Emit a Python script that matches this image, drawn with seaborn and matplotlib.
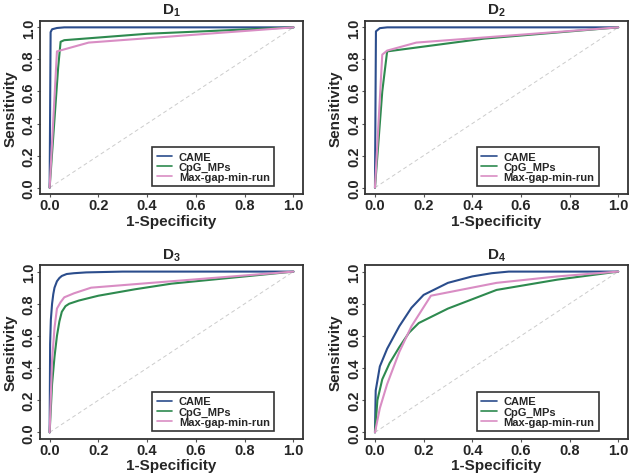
import pandas as pd
import matplotlib
matplotlib.use("Agg")
import matplotlib.pyplot as plt
import seaborn as sns

# ROC points: (1-specificity, sensitivity)
methods = ["CAME", "CpG_MPs", "Max-gap-min-run"]
colors = ["#2b4d8c", "#2e8a4f", "#d98dc4"]
panels = ["D$_1$", "D$_2$", "D$_3$", "D$_4$"]

d1_came_x = [0.0, 0.004, 0.01, 0.03, 0.06, 1.0]
d1_came_y = [0.0, 0.97, 0.988, 0.996, 1.0, 1.0]
d1_cpg_x = [0.0, 0.035, 0.045, 0.06, 0.4, 1.0]
d1_cpg_y = [0.0, 0.75, 0.91, 0.92, 0.96, 1.0]
d1_mgr_x = [0.0, 0.03, 0.16, 1.0]
d1_mgr_y = [0.0, 0.85, 0.905, 1.0]

d2_came_x = [0.0, 0.004, 0.02, 0.05, 1.0]
d2_came_y = [0.0, 0.975, 0.995, 1.0, 1.0]
d2_cpg_x = [0.0, 0.03, 0.05, 0.45, 1.0]
d2_cpg_y = [0.0, 0.6, 0.85, 0.93, 1.0]
d2_mgr_x = [0.0, 0.03, 0.05, 0.17, 1.0]
d2_mgr_y = [0.0, 0.83, 0.855, 0.905, 1.0]

d3_came_x = [0.0, 0.002, 0.005, 0.01, 0.015, 0.02, 0.03, 0.04, 0.05, 0.07, 0.1, 0.15, 0.3, 1.0]
d3_came_y = [0.0, 0.55, 0.7, 0.8, 0.86, 0.9, 0.94, 0.96, 0.973, 0.985, 0.99, 0.995, 1.0, 1.0]
d3_cpg_x = [0.0, 0.01, 0.02, 0.03, 0.04, 0.05, 0.065, 0.08, 0.12, 0.2, 0.35, 0.5, 1.0]
d3_cpg_y = [0.0, 0.3, 0.47, 0.6, 0.69, 0.75, 0.785, 0.8, 0.82, 0.85, 0.89, 0.925, 1.0]
d3_mgr_x = [0.0, 0.01, 0.02, 0.03, 0.045, 0.06, 0.1, 0.17, 0.5, 1.0]
d3_mgr_y = [0.0, 0.45, 0.65, 0.77, 0.81, 0.84, 0.865, 0.9, 0.94, 1.0]

d4_came_x = [0.0, 0.003, 0.02, 0.05, 0.1, 0.15, 0.2, 0.3, 0.4, 0.48, 0.55, 1.0]
d4_came_y = [0.0, 0.26, 0.41, 0.52, 0.66, 0.775, 0.855, 0.93, 0.97, 0.99, 1.0, 1.0]
d4_cpg_x = [0.0, 0.01, 0.03, 0.06, 0.1, 0.14, 0.18, 0.3, 0.5, 0.75, 1.0]
d4_cpg_y = [0.0, 0.2, 0.33, 0.43, 0.53, 0.62, 0.68, 0.77, 0.886, 0.95, 1.0]
d4_mgr_x = [0.0, 0.02, 0.05, 0.1, 0.15, 0.23, 0.5, 0.75, 1.0]
d4_mgr_y = [0.0, 0.15, 0.3, 0.5, 0.66, 0.85, 0.93, 0.97, 1.0]

curves = [
    [(d1_came_x, d1_came_y), (d1_cpg_x, d1_cpg_y), (d1_mgr_x, d1_mgr_y)],
    [(d2_came_x, d2_came_y), (d2_cpg_x, d2_cpg_y), (d2_mgr_x, d2_mgr_y)],
    [(d3_came_x, d3_came_y), (d3_cpg_x, d3_cpg_y), (d3_mgr_x, d3_mgr_y)],
    [(d4_came_x, d4_came_y), (d4_cpg_x, d4_cpg_y), (d4_mgr_x, d4_mgr_y)],
]

sns.set_theme(style="white")
plt.rcParams["font.family"] = ["Liberation Sans", "DejaVu Sans"]
plt.rcParams["font.weight"] = "bold"
plt.rcParams["mathtext.fontset"] = "custom"
plt.rcParams["mathtext.rm"] = "Liberation Sans:bold"
plt.rcParams["mathtext.bf"] = "Liberation Sans:bold"
plt.rcParams["mathtext.default"] = "bf"

fig = plt.figure(figsize=(6.33, 4.77), dpi=100)
positions = [
    [0.063, 0.591, 0.416, 0.363],
    [0.577, 0.591, 0.415, 0.363],
    [0.063, 0.078, 0.416, 0.364],
    [0.577, 0.078, 0.415, 0.364],
]
ticks = [0, 0.2, 0.4, 0.6, 0.8, 1.0]
tick_labels = ["0.0", "0.2", "0.4", "0.6", "0.8", "1.0"]

for i, pos in enumerate(positions):
    ax = fig.add_axes(pos)
    rows = []
    for m, (xs, ys) in zip(methods, curves[i]):
        for order, (x, y) in enumerate(zip(xs, ys)):
            rows.append({"fpr": x, "tpr": y, "method": m, "order": order})
    df = pd.DataFrame(rows)
    ax.plot([0, 1], [0, 1], color="#cccccc", lw=0.7, ls=(0, (4, 3)), zorder=1)
    sns.lineplot(data=df, x="fpr", y="tpr", hue="method", hue_order=methods,
                 palette=colors, sort=False, estimator=None, lw=1.5, ax=ax, zorder=3)
    ax.set_xlim(-0.04, 1.04)
    ax.set_ylim(-0.04, 1.04)
    ax.set_xticks(ticks)
    ax.set_yticks(ticks)
    ax.set_xticklabels(tick_labels, fontsize=10.5, fontweight="bold")
    ax.set_yticklabels(tick_labels, fontsize=10.5, fontweight="bold", rotation=90, va="center")
    ax.tick_params(axis="both", direction="out", length=2, width=0.8, color="#555555",
                   pad=1, bottom=True, left=True)
    for s in ax.spines.values():
        s.set_color("#333333")
        s.set_linewidth(1.3)
    ax.set_xlabel("1-Specificity", fontsize=11, fontweight="bold", labelpad=1)
    ax.set_ylabel("Sensitivity", fontsize=11, fontweight="bold", labelpad=3)
    ax.set_title(panels[i], fontsize=11, fontweight="bold", pad=5)
    leg = ax.legend(loc="lower right", bbox_to_anchor=(0.89, 0.045),
                    prop={"weight": "bold", "size": 8}, frameon=True, fancybox=False,
                    handlelength=1.4, labelspacing=0.0, borderpad=0.4, handletextpad=0.6,
                    borderaxespad=0)
    leg.get_frame().set_edgecolor("black")
    leg.get_frame().set_linewidth(1.2)
    for h in leg.get_lines():
        h.set_linewidth(1.2)

fig.savefig("out.png", dpi=100)
